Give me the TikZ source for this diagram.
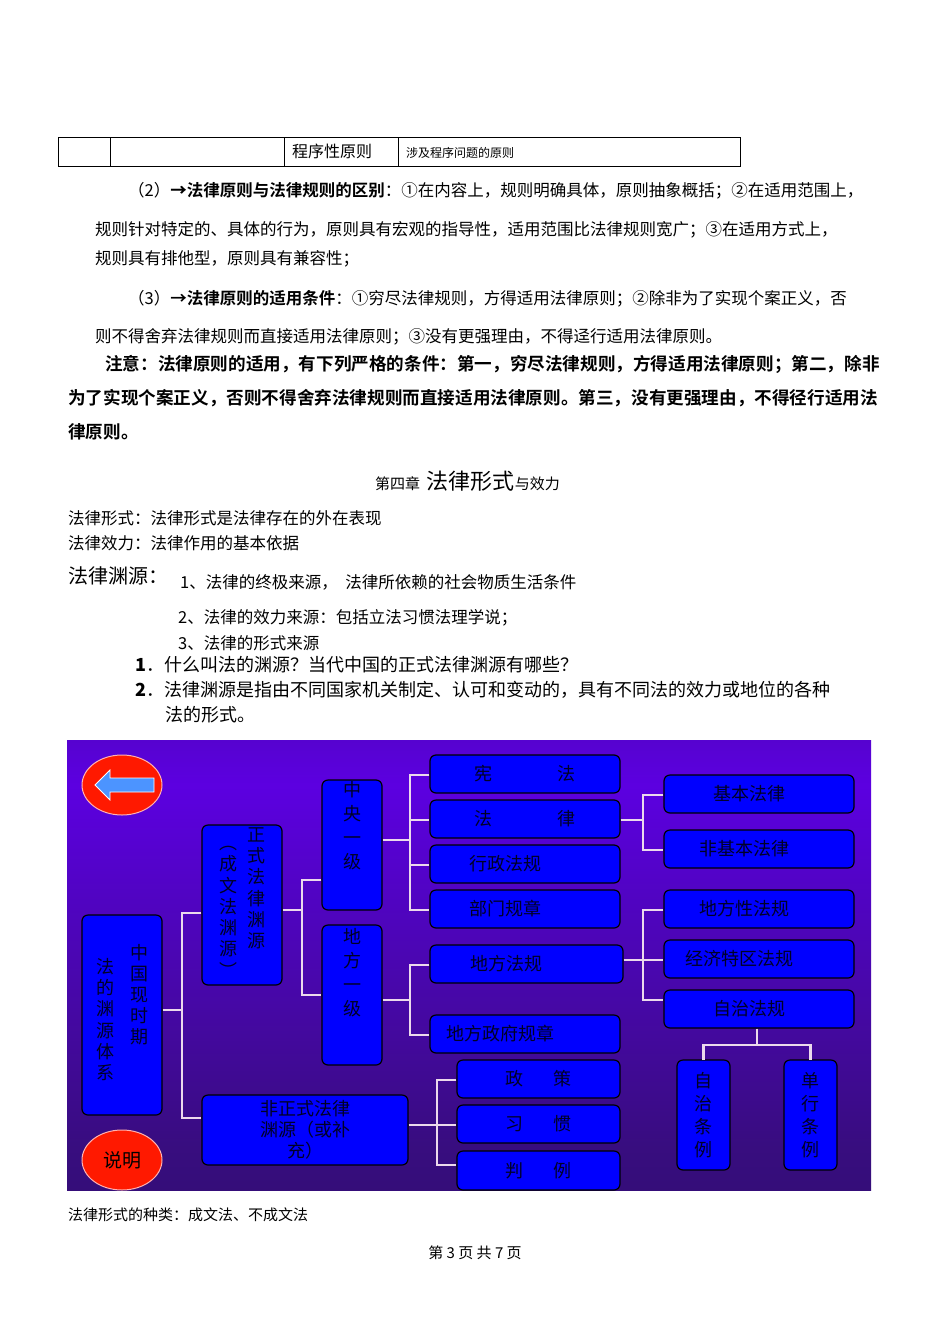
\documentclass[tikz,border=0pt]{standalone}
\usepackage{fontspec}
\setmainfont{Liberation Serif}
\newfontfamily\cjk{Noto Sans CJK SC}
\newfontfamily\cjkb{Noto Sans CJK SC Bold}
\usetikzlibrary{shapes.geometric}
\pgfdeclareverticalshading{diag}{100bp}{rgb(0bp)=(0.14,0.05,0.35);rgb(30bp)=(0.22,0.05,0.5);rgb(70bp)=(0.36,0.0,0.88);rgb(95bp)=(0.25,0.05,0.55);rgb(100bp)=(0.15,0.05,0.35)}
\begin{document}
\begin{tikzpicture}[x=1pt,y=-1pt,
  txt/.style={anchor=west,inner sep=0pt,font=\cjk\fontsize{16.5}{18}\selectfont},
  btxt/.style={anchor=west,inner sep=0pt,font=\cjkb\fontsize{17.6}{20}\selectfont},
  bx/.style={draw=black,line width=1.2pt,fill=blue,rounded corners=6pt,text=black!85!blue,font=\cjk\fontsize{18}{21}\selectfont,align=center,inner sep=0pt},
  cn/.style={draw=white!85!violet,line width=2.5pt},
  ov/.style={ellipse,draw=white!70!red,line width=1pt,fill=red!80!orange,minimum width=80pt,minimum height=60pt,inner sep=0pt}]
\useasboundingbox (0,0) rectangle (950,1344);
\fill[white] (0,0) rectangle (950,1344);
% table
\draw[line width=0.6pt] (58,137) rectangle (740,166);
\foreach \x in {110,284,398} \draw[line width=0.6pt] (\x,137)--(\x,166);
\node[txt,font=\cjk\fontsize{16}{18}\selectfont] (t1) at (292,151) {程序性原则};
\node[txt,font=\cjk\fontsize{12}{14}\selectfont] (t2) at (406,153) {涉及程序问题的原则};
% paragraphs
\node[txt] (p1) at (128,191) {（2）\textbf{→}{\cjkb 法律原则与法律规则的区别}：①在内容上，规则明确具体，原则抽象概括；②在适用范围上，};
\node[txt] (p2) at (95,230) {规则针对特定的、具体的行为，原则具有宏观的指导性，适用范围比法律规则宽广；③在适用方式上，};
\node[txt] (p3) at (95,259) {规则具有排他型，原则具有兼容性；};
\node[txt] (p4) at (128,299) {（3）{\cjkb →法律原则的适用条件}：①穷尽法律规则，方得适用法律原则；②除非为了实现个案正义，否};
\node[txt] (p5) at (95,337) {则不得舍弃法律规则而直接适用法律原则；③没有更强理由，不得迳行适用法律原则。};
\node[btxt] (n1) at (105,364) {注意：法律原则的适用，有下列严格的条件：第一，穷尽法律规则，方得适用法律原则；第二，除非};
\node[btxt] (n2) at (68,398) {为了实现个案正义，否则不得舍弃法律规则而直接适用法律原则。第三，没有更强理由，不得径行适用法};
\node[btxt] (n3) at (68,432) {律原则。};
\node[txt,anchor=base west,font=\cjk\fontsize{15}{18}\selectfont] (h1) at (375,489) {第四章\ \ {\fontsize{22}{24}\selectfont 法律形式}与效力};
\node[txt] (l1) at (68,518) {法律形式：法律形式是法律存在的外在表现};
\node[txt] (l2) at (68,543) {法律效力：法律作用的基本依据};
\node[txt,font=\cjk\fontsize{20}{22}\selectfont] (l3) at (68,576) {法律渊源：};
\node[txt] (l4) at (180,582) {1、法律的终极来源，\ \ 法律所依赖的社会物质生活条件};
\node[txt] (l5) at (178,618) {2、法律的效力来源：包括立法习惯法理学说；};
\node[txt] (l6) at (178,643) {3、法律的形式来源};
\node[txt,font=\cjk\fontsize{18}{20}\selectfont] (q1) at (135,665) {\textbf{1}．什么叫法的渊源？当代中国的正式法律渊源有哪些？};
\node[txt,font=\cjk\fontsize{18}{20}\selectfont] (q2) at (135,690) {\textbf{2}．法律渊源是指由不同国家机关制定、认可和变动的，具有不同法的效力或地位的各种};
\node[txt,font=\cjk\fontsize{18}{20}\selectfont] (q3) at (165,715) {法的形式。};
% diagram background
\shade[shading=diag] (67,740) rectangle (871,1190);
% ovals
\node[ov] (back) at (122,785) {};
\fill[blue!60!cyan!70!white,draw=white,line width=0.8pt] (95,785)--(110,770)--(110,778)--(154,778)--(154,792)--(110,792)--(110,800)--cycle;
\node[ov,font=\cjk\fontsize{19}{21}\selectfont,text=black] (sm) at (122,1160) {说明};
% boxes
\newcommand\bxr[4]{\node[bx,minimum width=#3-#1,minimum height=#4-#2] at ({(#1+#3)/2},{(#2+#4)/2})}
\bxr{82}{915}{162}{1115} (root) {\begin{tabular}{@{}c@{\hspace{16pt}}c@{}}\begin{tabular}[t]{@{}c@{}}法\\的\\渊\\源\\体\\系\end{tabular} & \raisebox{14pt}{\begin{tabular}[t]{@{}c@{}}中\\国\\现\\时\\期\end{tabular}}\end{tabular}};
\bxr{202}{825}{282}{985} (zs) {\begin{tabular}{@{}c@{\hspace{10pt}}c@{}}\begin{tabular}[t]{@{}c@{}}︵\\成\\文\\法\\渊\\源\\︶\end{tabular} & \raisebox{8pt}{\begin{tabular}[t]{@{}c@{}}正\\式\\法\\律\\渊\\源\end{tabular}}\end{tabular}};
\bxr{322}{780}{382}{910} (zy) {中\\[3pt]央\\[3pt]一\\[3pt]级\\[20pt]};
\bxr{322}{925}{382}{1065} (df) {地\\[3pt]方\\[3pt]一\\[3pt]级\\[26pt]};
\bxr{430}{755}{620}{793} (xf) {宪\hspace{65pt}法};
\bxr{430}{800}{620}{838} (fl) {法\hspace{65pt}律};
\bxr{430}{845}{620}{883} (xz) {行政法规\hspace{40pt}};
\bxr{430}{890}{620}{928} (bm) {部门规章\hspace{40pt}};
\bxr{430}{945}{623}{983} (dff) {地方法规\hspace{40pt}};
\bxr{430}{1015}{620}{1053} (dz) {地方政府规章\hspace{50pt}};
\bxr{202}{1095}{408}{1165} (fz) {非正式法律\\渊源（或补\\充）};
\bxr{457}{1060}{620}{1098} (zc) {政\hspace{30pt}策};
\bxr{457}{1105}{620}{1143} (xg) {习\hspace{30pt}惯};
\bxr{457}{1151}{620}{1190} (pl) {判\hspace{30pt}例};
\bxr{664}{775}{854}{813} (jb) {基本法律\hspace{20pt}};
\bxr{664}{830}{854}{868} (fjb) {非基本法律\hspace{30pt}};
\bxr{664}{890}{854}{928} (dfx) {地方性法规\hspace{30pt}};
\bxr{664}{940}{854}{978} (jj) {经济特区法规\hspace{40pt}};
\bxr{664}{990}{854}{1028} (zzf) {自治法规\hspace{20pt}};
\bxr{677}{1060}{730}{1170} (zztl) {自\\[2pt]治\\[2pt]条\\[2pt]例};
\bxr{784}{1060}{837}{1170} (dx) {单\\[2pt]行\\[2pt]条\\[2pt]例};
% connectors
\draw[cn] (root.east|-0,1010)--(182,1010);
\draw[cn] (zs.west|-0,913)-|(182,1118)--(fz.west|-0,1118);
\draw[cn] (zs.east|-0,910)--(302,910);
\draw[cn] (zy.west|-0,880)-|(302,995)--(df.west|-0,995);
\draw[cn] (zy.east|-0,840)--(410,840);
\draw[cn] (xf.west|-0,775)-|(410,910)--(bm.west|-0,910);
\draw[cn] (410,820)--(fl.west|-0,820);
\draw[cn] (410,865)--(xz.west|-0,865);
\draw[cn] (df.east|-0,1000)--(410,1000);
\draw[cn] (dff.west|-0,965)-|(410,1035)--(dz.west|-0,1035);
\draw[cn] (fl.east|-0,820)--(643,820);
\draw[cn] (jb.west|-0,795)-|(643,850)--(fjb.west|-0,850);
\draw[cn] (dff.east|-0,960)--(643,960);
\draw[cn] (dfx.west|-0,910)-|(643,1000)--(zzf.west|-0,1000);
\draw[cn] (643,960)--(jj.west|-0,960);
\draw[cn] (zzf.south-|757,0)--(757,1045);
\draw[cn] (zztl.north|-0,1060)|-(757,1045)-|(dx.north|-0,1060);
\draw[cn] (fz.east|-0,1125)--(437,1125);
\draw[cn] (zc.west|-0,1080)-|(437,1165)--(pl.west|-0,1165);
\draw[cn] (437,1125)--(xg.west|-0,1125);
% footer
\node[txt,font=\cjk\fontsize{15}{18}\selectfont] (f1) at (68,1215) {法律形式的种类：成文法、不成文法};
\node[txt,anchor=center,font=\cjk\fontsize{15}{18}\selectfont] (f2) at (475,1253) {第 3 页 共 7 页};
\end{tikzpicture}
\end{document}
